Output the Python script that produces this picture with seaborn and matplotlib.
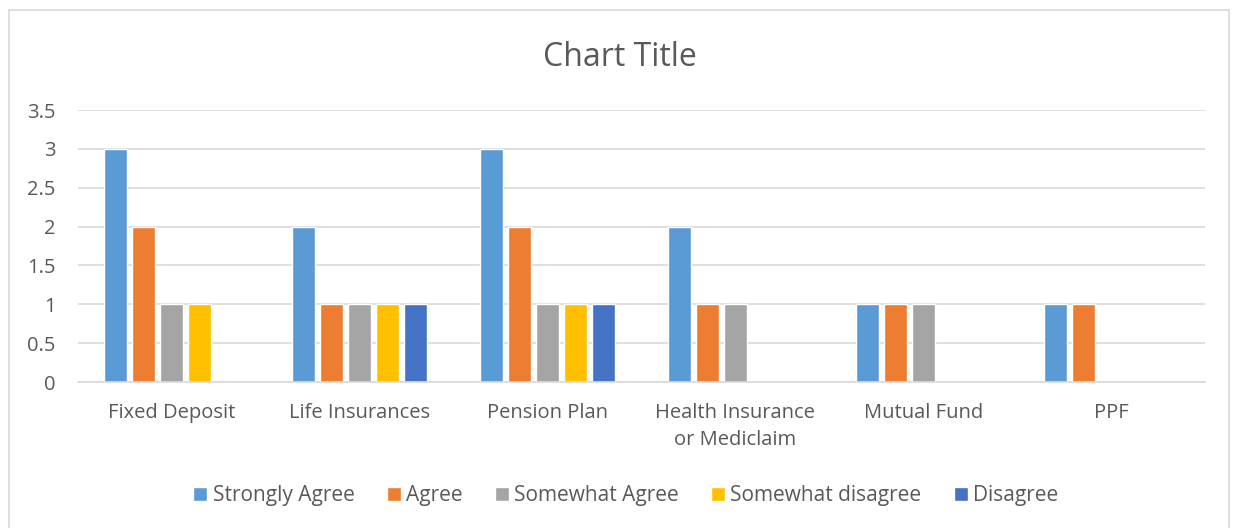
import matplotlib
matplotlib.use("Agg")
import matplotlib.pyplot as plt
import seaborn as sns
import pandas as pd
from matplotlib.patches import Rectangle

categories = ["Fixed Deposit", "Life Insurances", "Pension Plan",
              "Health Insurance\nor Mediclaim", "Mutual Fund", "PPF"]
series = ["Strongly Agree", "Agree", "Somewhat Agree", "Somewhat disagree", "Disagree"]
strongly_agree = [3, 2, 3, 2, 1, 1]
agree = [2, 1, 2, 1, 1, 1]
somewhat_agree = [1, 1, 1, 1, 1, 0]
somewhat_disagree = [1, 1, 1, 0, 0, 0]
disagree = [0, 1, 1, 0, 0, 0]
colors = ["#5B9BD5", "#ED7D31", "#A5A5A5", "#FFC000", "#4472C4"]

values = [strongly_agree, agree, somewhat_agree, somewhat_disagree, disagree]
rows = []
for s, vals in zip(series, values):
    for c, v in zip(categories, vals):
        rows.append({"category": c, "response": s, "count": v})
df = pd.DataFrame(rows)

sns.set_theme(style="white")
plt.rcParams["font.family"] = ["Open Sans", "DejaVu Sans"]
text_color = "#595959"

fig = plt.figure(figsize=(12.39, 5.28), dpi=100)
ax = fig.add_axes([78 / 1239, 1 - 382 / 528, (1205 - 78) / 1239, (382 - 110) / 528])

sns.barplot(data=df, x="category", y="count", hue="response",
            order=categories, hue_order=series, palette=colors,
            width=0.745, gap=0.18, ax=ax, legend=True, saturation=1)

ax.set_ylim(0, 3.5)
ax.set_xlim(-0.5, len(categories) - 0.5)
ax.set_yticks([0, 0.5, 1, 1.5, 2, 2.5, 3, 3.5])
ax.set_yticklabels(["0", "0.5", "1", "1.5", "2", "2.5", "3", "3.5"])
ax.yaxis.grid(True, color="#D9D9D9", linewidth=1.2)
ax.set_axisbelow(True)
for side in ["top", "right", "left"]:
    ax.spines[side].set_visible(False)
ax.spines["bottom"].set_color("#D9D9D9")
ax.spines["bottom"].set_linewidth(1.2)
ax.tick_params(axis="both", length=0, colors=text_color, labelsize=14.5)
ax.tick_params(axis="y", pad=16)
ax.tick_params(axis="x", pad=15)
ax.set_xlabel("")
ax.set_ylabel("")
for lbl in ax.get_xticklabels():
    lbl.set_linespacing(1.45)

handles, labels = ax.get_legend_handles_labels()
ax.legend_.remove()
fig.legend(handles, labels, loc="center", bbox_to_anchor=(0.505, 1 - 496 / 528),
           ncol=5, frameon=False, fontsize=15, handlelength=0.67, handleheight=0.67,
           handletextpad=0.25, columnspacing=1.55, labelcolor=text_color)

fig.text(0.5, 1 - 57 / 528, "Chart Title", ha="center", va="center",
         fontsize=23, color=text_color)

fig.patches.append(Rectangle((9 / 1239, -0.01), (1229 - 9) / 1239, 1 - 10 / 528 + 0.01,
                             transform=fig.transFigure, fill=False,
                             edgecolor="#D9D9D9", linewidth=1.2))

fig.savefig("out.png", dpi=100, facecolor="white")
